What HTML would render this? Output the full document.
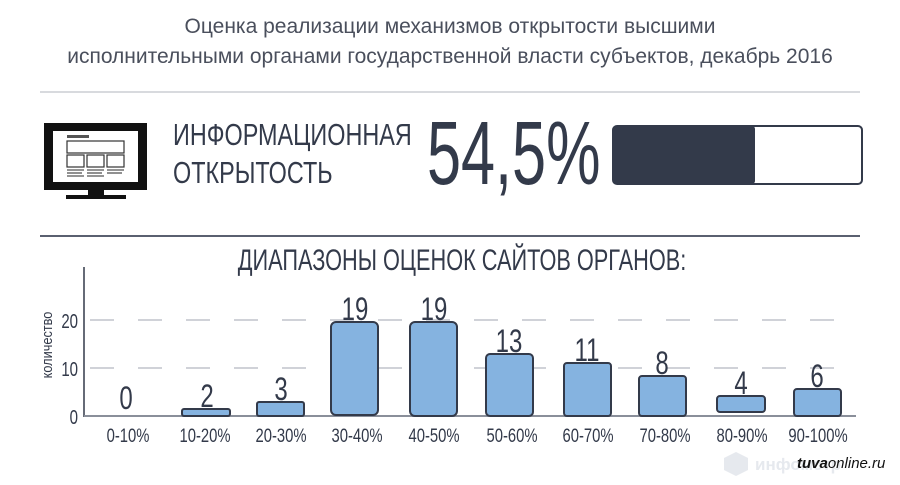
<!DOCTYPE html>
<html><head><meta charset="utf-8"><style>
body{margin:0;width:900px;height:480px;background:#fff;overflow:hidden;font-family:"Liberation Sans","DejaVu Sans",sans-serif}
</style></head><body>
<svg width="900" height="480" xmlns="http://www.w3.org/2000/svg" font-family="Liberation Sans, DejaVu Sans, sans-serif">
<text x="450" y="33" text-anchor="middle" font-size="21" fill="#4a4f5c">Оценка реализации механизмов открытости высшими</text>
<text x="450" y="63" text-anchor="middle" font-size="21" fill="#4a4f5c">исполнительными органами государственной власти субъектов, декабрь 2016</text>
<line x1="40" y1="92" x2="860" y2="92" stroke="#d8dade" stroke-width="2"/>
<rect x="44" y="123" width="103" height="67" fill="#111"/>
<rect x="53" y="131" width="85" height="51" fill="#fff"/>
<rect x="67" y="135" width="22" height="3" fill="#555"/>
<rect x="67" y="141" width="57" height="12" fill="none" stroke="#333" stroke-width="1.2"/>
<rect x="67" y="155" width="17" height="12" fill="none" stroke="#333" stroke-width="1.2"/>
<rect x="87" y="155" width="17" height="12" fill="none" stroke="#333" stroke-width="1.2"/>
<rect x="107" y="155" width="17" height="12" fill="none" stroke="#333" stroke-width="1.2"/>
<g stroke="#555" stroke-width="1.3"><line x1="67" y1="170" x2="84" y2="170"/><line x1="67" y1="173" x2="82" y2="173"/><line x1="67" y1="176" x2="84" y2="176"/>
<line x1="87" y1="170" x2="104" y2="170"/><line x1="87" y1="173" x2="102" y2="173"/><line x1="87" y1="176" x2="104" y2="176"/>
<line x1="107" y1="170" x2="124" y2="170"/><line x1="107" y1="173" x2="122" y2="173"/></g>
<rect x="88" y="190" width="16" height="8" fill="#111"/>
<rect x="66" y="195" width="60" height="4" fill="#111"/>
<g transform="translate(173,145) scale(0.755,1)"><text font-size="31" fill="#333a4a">ИНФОРМАЦИОННАЯ</text></g>
<g transform="translate(173,183) scale(0.755,1)"><text font-size="31" fill="#333a4a">ОТКРЫТОСТЬ</text></g>
<g transform="translate(427,184) scale(0.68,1)"><text font-size="90" fill="#333a4a">54,5%</text></g>
<rect x="613" y="126" width="249" height="58" rx="4" fill="#fff" stroke="#333a4a" stroke-width="2"/>
<rect x="613" y="126" width="142" height="58" rx="3" fill="#333a4a"/>
<line x1="40" y1="236" x2="860" y2="236" stroke="#5a6070" stroke-width="2"/>
<g transform="translate(462,270) scale(0.725,1)"><text text-anchor="middle" font-size="30" fill="#333a4a">ДИАПАЗОНЫ ОЦЕНОК САЙТОВ ОРГАНОВ:</text></g>
<g stroke="#d0d2d8" stroke-width="2" stroke-dasharray="24,24"><line x1="90" y1="320" x2="855" y2="320"/><line x1="90" y1="368" x2="855" y2="368"/></g>
<line x1="84" y1="267" x2="84" y2="417" stroke="#333a4a" stroke-width="1.5"/>
<line x1="84" y1="416" x2="856" y2="416" stroke="#8a8f9a" stroke-width="2"/>
<g font-size="20" fill="#333a4a" text-anchor="end"><g transform="translate(78,328) scale(0.75,1)"><text>20</text></g><g transform="translate(78,376) scale(0.75,1)"><text>10</text></g><g transform="translate(78,424) scale(0.75,1)"><text>0</text></g></g>
<g transform="translate(52,345) rotate(-90) scale(0.85,1)"><text text-anchor="middle" font-size="15" fill="#333a4a">количество</text></g>
<g fill="#85b3e0" stroke="#333a4a" stroke-width="2">
<rect x="182" y="409" width="48" height="7" rx="2"/>
<rect x="257" y="402" width="47" height="14" rx="2"/>
<rect x="331" y="322" width="47" height="93" rx="5"/>
<rect x="410" y="322" width="47" height="94" rx="5"/>
<rect x="486" y="354" width="47" height="62" rx="4"/>
<rect x="564" y="363" width="47" height="53" rx="3"/>
<rect x="639" y="376" width="47" height="40" rx="3"/>
<rect x="717" y="396" width="48" height="16" rx="3"/>
<rect x="794" y="389" width="47" height="27" rx="3"/>
</g>
<g font-size="32" fill="#333a4a" text-anchor="middle">
<g transform="translate(126,409) scale(0.75,1)"><text>0</text></g>
<g transform="translate(207,407) scale(0.75,1)"><text>2</text></g>
<g transform="translate(281,400) scale(0.75,1)"><text>3</text></g>
<g transform="translate(355,320) scale(0.75,1)"><text>19</text></g>
<g transform="translate(434,320) scale(0.75,1)"><text>19</text></g>
<g transform="translate(509,352) scale(0.75,1)"><text>13</text></g>
<g transform="translate(587,361) scale(0.75,1)"><text>11</text></g>
<g transform="translate(662,374) scale(0.75,1)"><text>8</text></g>
<g transform="translate(741,394) scale(0.75,1)"><text>4</text></g>
<g transform="translate(817,387) scale(0.75,1)"><text>6</text></g>
</g>
<g font-size="19" fill="#333a4a" text-anchor="middle">
<g transform="translate(128,442) scale(0.78,1)"><text>0-10%</text></g>
<g transform="translate(205,442) scale(0.78,1)"><text>10-20%</text></g>
<g transform="translate(281,442) scale(0.78,1)"><text>20-30%</text></g>
<g transform="translate(357,442) scale(0.78,1)"><text>30-40%</text></g>
<g transform="translate(434,442) scale(0.78,1)"><text>40-50%</text></g>
<g transform="translate(512,442) scale(0.78,1)"><text>50-60%</text></g>
<g transform="translate(588,442) scale(0.78,1)"><text>60-70%</text></g>
<g transform="translate(665,442) scale(0.78,1)"><text>70-80%</text></g>
<g transform="translate(742,442) scale(0.78,1)"><text>80-90%</text></g>
<g transform="translate(818,442) scale(0.78,1)"><text>90-100%</text></g>
</g>
<path d="M724 458 l12 -6 l12 6 v12 l-12 6 l-12 -6z" fill="#e6e9ee"/>
<text x="755" y="470" font-size="17" font-weight="bold" fill="#e6e9ee">инфомстр</text>
<text x="797" y="468" font-size="15" fill="#111"><tspan font-weight="bold" font-style="italic">tuva</tspan><tspan font-style="italic">online.ru</tspan></text>
</svg>
</body></html>
